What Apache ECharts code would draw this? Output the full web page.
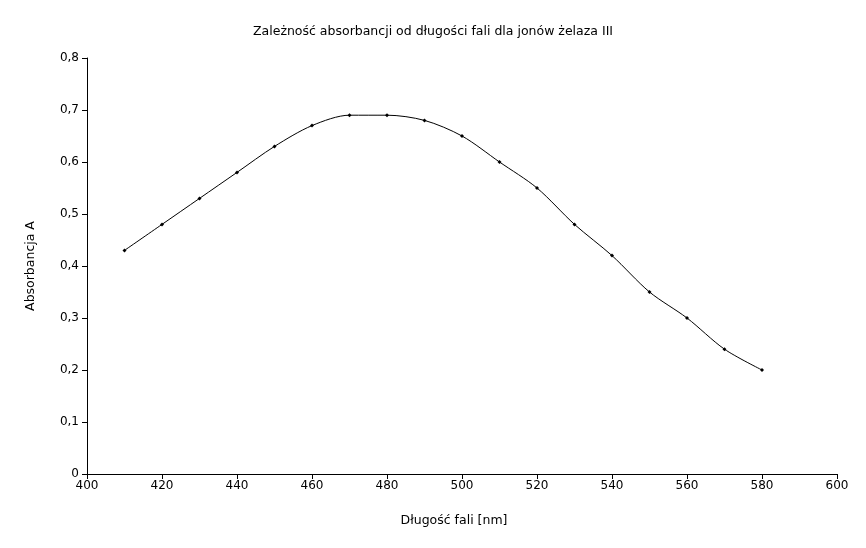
<!DOCTYPE html>
<html><head><meta charset="utf-8">
<script src="https://cdn.jsdelivr.net/npm/echarts@6/dist/echarts.min.js"></script>
<style>html,body{margin:0;padding:0;background:#fff}#c{width:866px;height:548px}</style>
</head><body><div id="c"></div>
<script>
const wavelengths = [410,420,430,440,450,460,470,480,490,500,510,520,530,540,550,560,570,580];
const absorbance = [0.43,0.48,0.53,0.58,0.63,0.67,0.69,0.69,0.68,0.65,0.60,0.55,0.48,0.42,0.35,0.30,0.24,0.20];
const titleText = 'Zależność absorbancji od długości fali dla jonów żelaza III';
const xName = 'Długość fali [nm]';
const yName = 'Absorbancja A';

const chart = echarts.init(document.getElementById('c'), null, {renderer:'canvas'});
const font = 'DejaVu Sans';
chart.setOption({
  animation:false,
  backgroundColor:'#fff',
  title:{text:titleText,left:'center',top:20,textStyle:{fontFamily:font,fontSize:12.5,fontWeight:'normal',color:'#000'}},
  grid:{left:87,right:29,top:58,bottom:74},
  xAxis:{type:'value',min:400,max:600,interval:20,
    name:xName,nameLocation:'middle',nameGap:40,
    nameTextStyle:{fontFamily:font,fontSize:12.5,color:'#000',padding:[0,16,0,0]},
    axisLine:{show:true,lineStyle:{color:'#000',width:1}},
    axisTick:{show:true,length:5,lineStyle:{color:'#000'}},
    axisLabel:{fontFamily:font,fontSize:12,color:'#000',margin:6},
    splitLine:{show:false}},
  yAxis:{type:'value',min:0,max:0.8,interval:0.1,
    name:yName,nameLocation:'middle',nameGap:50,nameRotate:90,
    nameTextStyle:{fontFamily:font,fontSize:12.5,color:'#000'},
    axisLine:{show:true,lineStyle:{color:'#000',width:1}},
    axisTick:{show:true,length:5,lineStyle:{color:'#000'}},
    axisLabel:{fontFamily:font,fontSize:12,color:'#000',margin:8,
      formatter:v=>v===0?'0':v.toFixed(1).replace('.',',')},
    splitLine:{show:false}},
  series:[{type:'line',smooth:0.3,
    data:wavelengths.map((w,i)=>[w,absorbance[i]]),
    symbol:'diamond',symbolSize:4,
    itemStyle:{color:'#000'},
    lineStyle:{color:'#000',width:1}}]
});
</script></body></html>
